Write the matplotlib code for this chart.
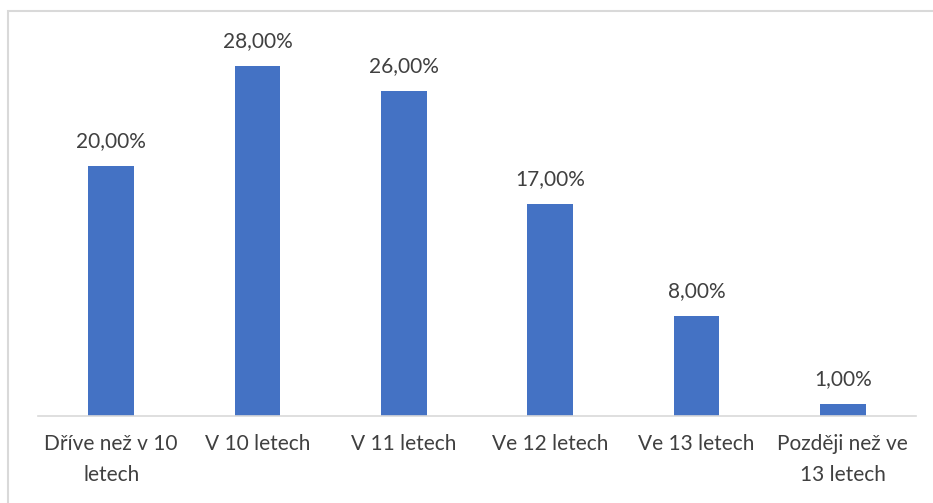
import matplotlib
matplotlib.use("Agg")
import matplotlib.pyplot as plt
from matplotlib.patches import Rectangle

categories = ["Dříve než v 10\nletech", "V 10 letech", "V 11 letech",
              "Ve 12 letech", "Ve 13 letech", "Později než ve\n13 letech"]
values = [20.0, 28.0, 26.0, 17.0, 8.0, 1.0]
labels = ["20,00%", "28,00%", "26,00%", "17,00%", "8,00%", "1,00%"]

plt.rcParams['font.family'] = ['Lato', 'DejaVu Sans']

fig = plt.figure(figsize=(9.33, 5.03), dpi=100)
fig.patches.append(Rectangle((8/933, -0.1), 1.2, 1 - 11/503 + 0.1, transform=fig.transFigure,
                             fill=False, edgecolor="#d9d9d9", linewidth=1.5))
ax = fig.add_axes([38/933, 1 - 416/503, 878/933, 375/503])
x = range(len(categories))
bars = ax.bar(x, values, width=0.31, color="#4472c4")
ax.set_xlim(-0.5, len(categories) - 0.5)
ax.set_ylim(0, 30)
for xi, v, lab in zip(x, values, labels):
    ax.annotate(lab, (xi, v), xytext=(0, 10.5), textcoords="offset points",
                ha="center", va="bottom", fontsize=15, color="#404040")
ax.set_xticks(list(x))
ax.set_xticklabels(categories, fontsize=15, color="#404040", linespacing=1.7)
ax.tick_params(axis="x", length=0, pad=13)
ax.set_yticks([])
for s in ["top", "right", "left"]:
    ax.spines[s].set_visible(False)
ax.spines["bottom"].set_color("#d9d9d9")
ax.spines["bottom"].set_linewidth(1.2)
fig.savefig("out.png", dpi=100)
